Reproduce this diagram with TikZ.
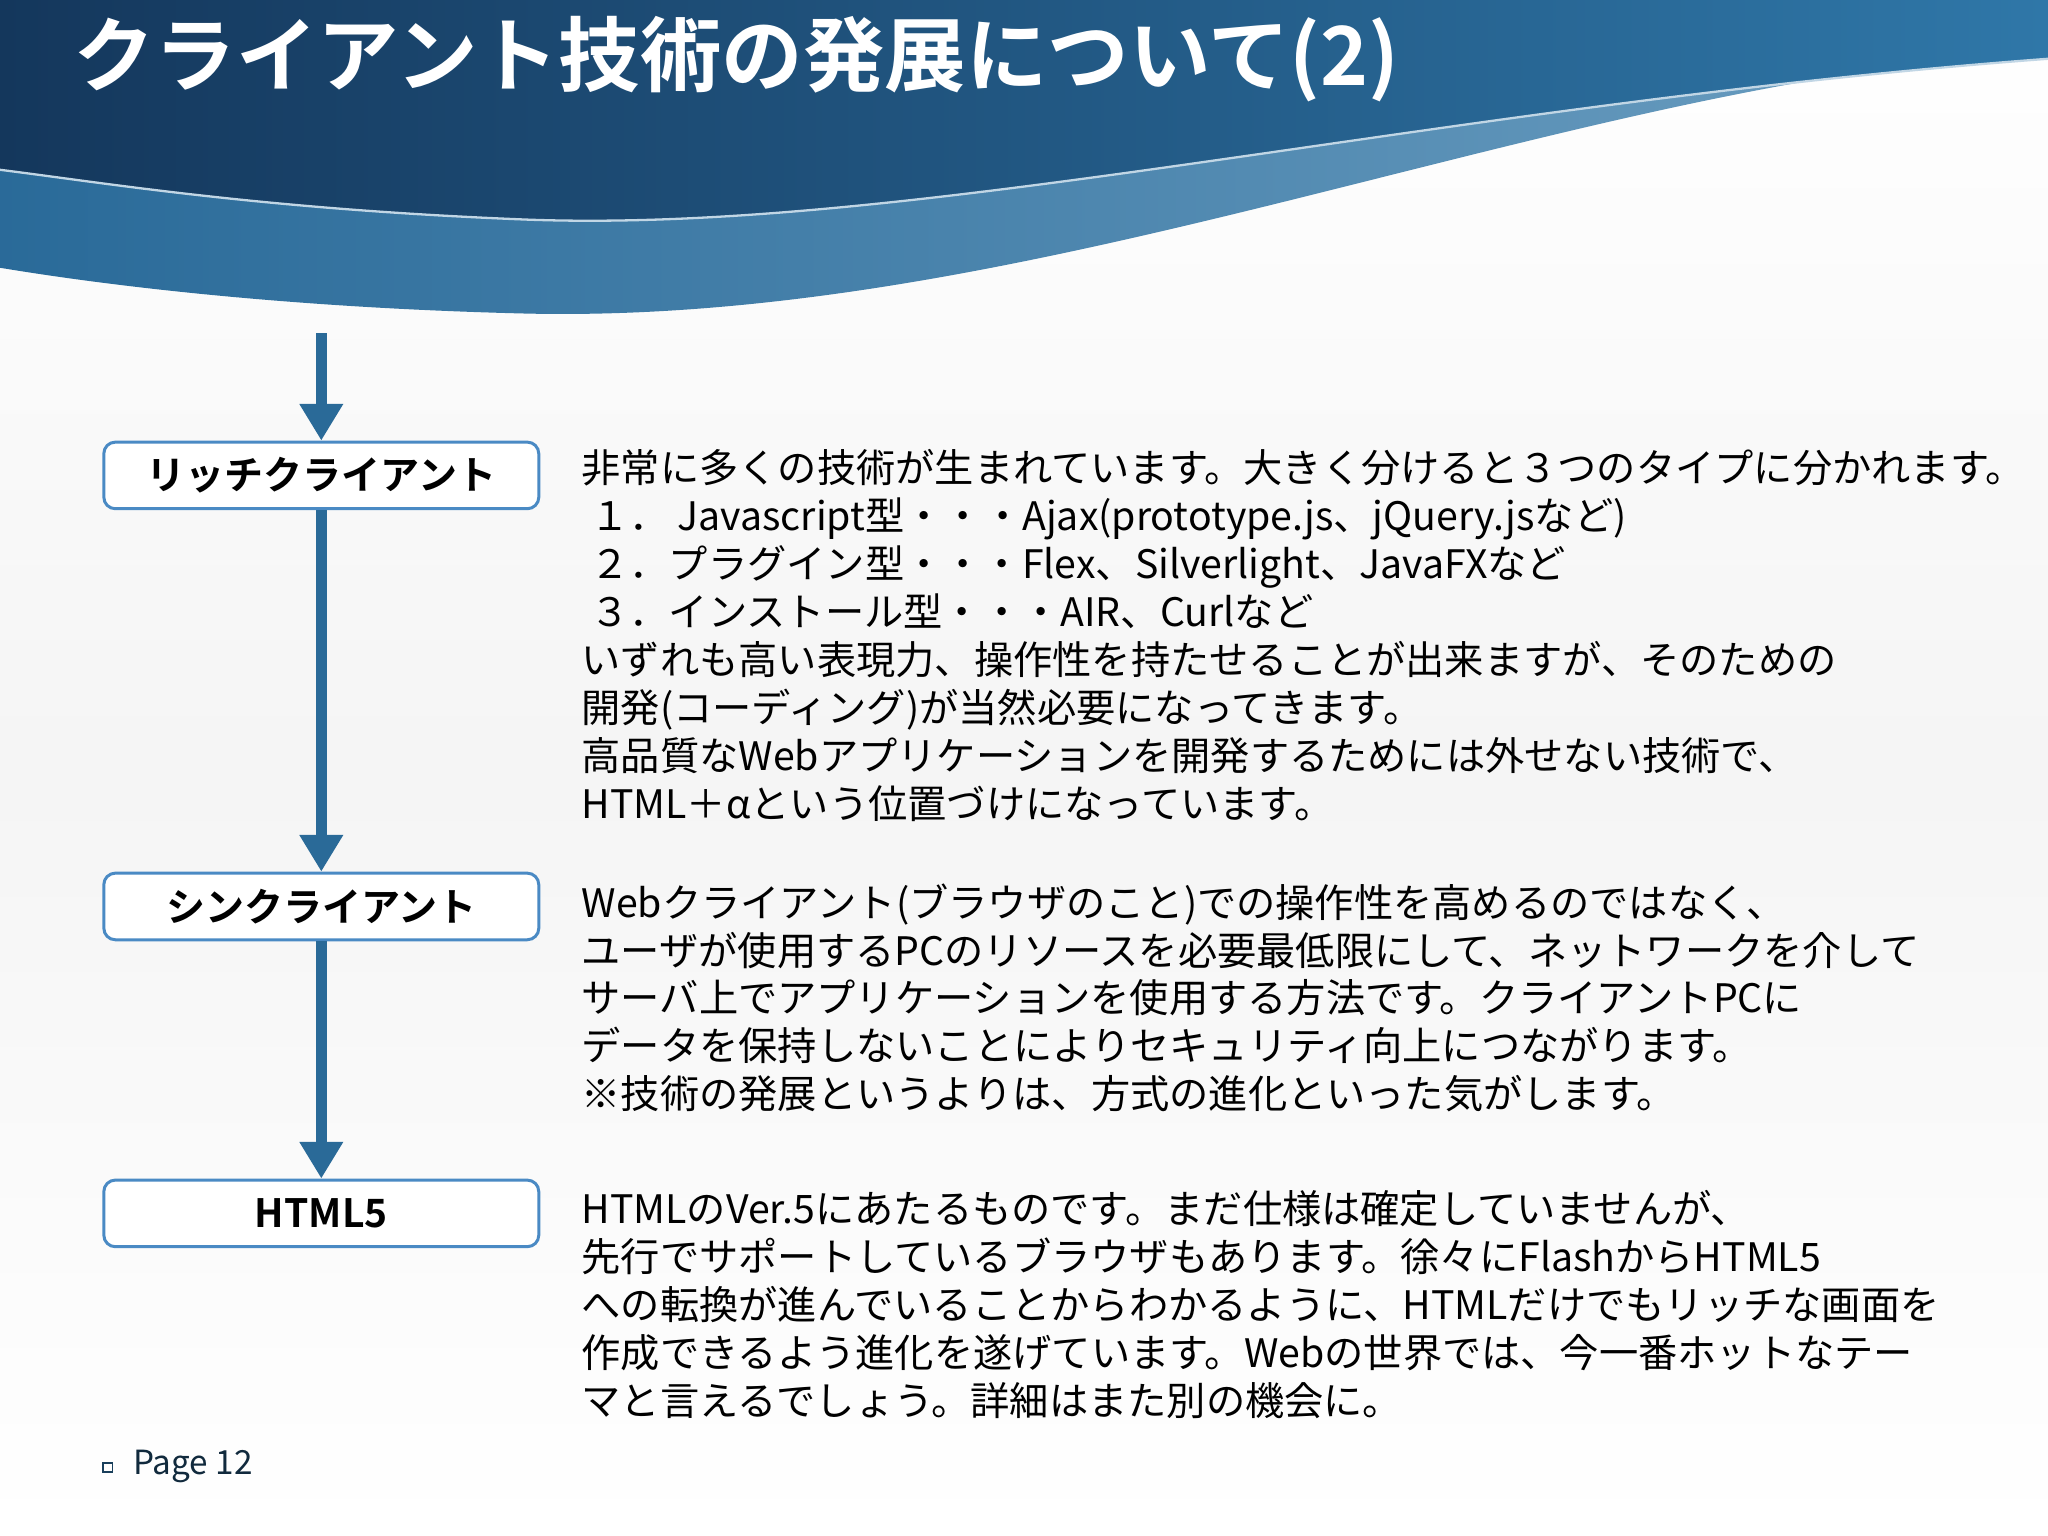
\documentclass[tikz,border=0pt]{standalone}
\usepackage{fontspec}
\setmainfont{Noto Sans CJK JP}
\newfontfamily\jpb{Noto Sans CJK JP Bold}
\usetikzlibrary{arrows.meta}
\definecolor{arrowblue}{HTML}{2A6A98}
\definecolor{boxblue}{HTML}{4A8AC4}
\definecolor{navy}{HTML}{14375C}
\definecolor{midblue}{HTML}{2F77A8}
\begin{document}
\begin{tikzpicture}[x=0.02cm,y=-0.02cm,
  lbox/.style={draw=boxblue, line width=1.3pt, fill=white, rounded corners=5pt, minimum width=333*0.02cm, minimum height=51*0.02cm, font=\jpb\fontsize{17}{20}\selectfont},
  flow/.style={line width=5pt, draw=arrowblue, -{Triangle[length=16pt,width=18pt]}},
  body/.style={anchor=north west, align=left, inner sep=0pt, font=\fontsize{17.1}{20.9}\selectfont}]
\useasboundingbox (0,0) rectangle (1568,1176);
\shade[top color=white, bottom color=white, middle color=gray!8] (0,0) rectangle (1568,1176);
\shade[left color=midblue!80!navy, right color=midblue!70!white] (0,0) -- (1568,0) -- (1568,40) .. controls (1200,60) and (800,250) .. (400,240) .. controls (200,235) and (60,215) .. (0,205) -- cycle;
\shade[left color=navy, right color=midblue] (0,0) -- (1568,0) -- (1568,45) .. controls (1100,80) and (700,180) .. (400,168) .. controls (200,160) and (80,140) .. (0,130) -- cycle;
\draw[white!70!midblue, line width=1pt] (1568,45) .. controls (1100,80) and (700,180) .. (400,168) .. controls (200,160) and (80,140) .. (0,130);
\node[anchor=west, text=white, font=\jpb\fontsize{35.5}{40}\selectfont] (title) at (50,45) {クライアント技術の発展について(2)};
\node[lbox] (b1) at (246,364) {リッチクライアント};
\node[lbox] (b2) at (246,694) {シンクライアント};
\node[lbox] (b3) at (246,929) {HTML5};
\coordinate (top) at (246,255);
\draw[flow] (top) -- (b1.north);
\draw[flow] (b1.south) -- (b2.north);
\draw[flow] (b2.south) -- (b3.north);
\node[body] (t1) at (445,344) {非常に多くの技術が生まれています。大きく分けると３つのタイプに分かれます。\\
\ １．\ Javascript型・・・Ajax(prototype.js、jQuery.jsなど)\\
\ ２．プラグイン型・・・Flex、Silverlight、JavaFXなど\\
\ ３．インストール型・・・AIR、Curlなど\\
いずれも高い表現力、操作性を持たせることが出来ますが、そのための\\
開発(コーディング)が当然必要になってきます。\\
高品質なWebアプリケーションを開発するためには外せない技術で、\\
HTML＋αという位置づけになっています。};
\node[body] (t2) at (445,676) {Webクライアント(ブラウザのこと)での操作性を高めるのではなく、\\
ユーザが使用するPCのリソースを必要最低限にして、ネットワークを介して\\
サーバ上でアプリケーションを使用する方法です。クライアントPCに\\
データを保持しないことによりセキュリティ向上につながります。\\
※技術の発展というよりは、方式の進化といった気がします。};
\node[body] (t3) at (445,911) {HTMLのVer.5にあたるものです。まだ仕様は確定していませんが、\\
先行でサポートしているブラウザもあります。徐々にFlashからHTML5\\
への転換が進んでいることからわかるように、HTMLだけでもリッチな画面を\\
作成できるよう進化を遂げています。Webの世界では、今一番ホットなテー\\
マと言えるでしょう。詳細はまた別の機会に。};
\draw[arrowblue!60!black, line width=0.6pt] (79,1120) rectangle (86,1127);
\node[anchor=west, font=\fontsize{14.5}{17}\selectfont, text=arrowblue!40!black] (pg) at (96,1123) {Page 12};
\end{tikzpicture}
\end{document}
